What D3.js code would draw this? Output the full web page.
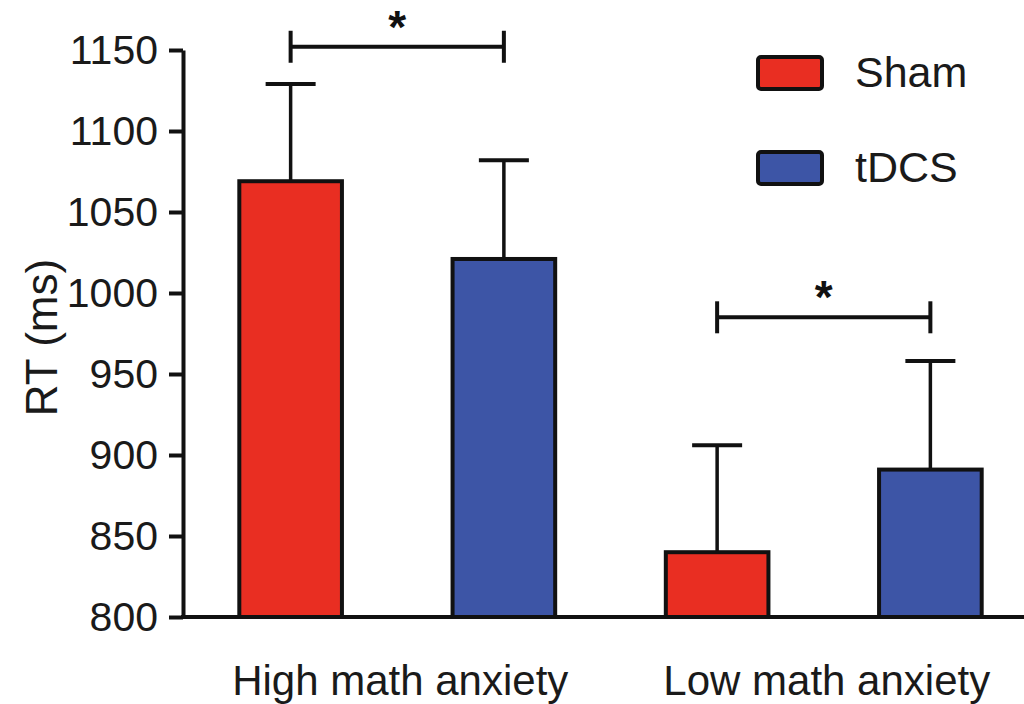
<!DOCTYPE html>
<html>
<head>
<meta charset="utf-8">
<script src="https://cdn.jsdelivr.net/npm/d3@7"></script>
<style>
  html, body { margin: 0; padding: 0; background: #fff; }
  svg { display: block; font-family: "Liberation Sans", Arial, Helvetica, sans-serif; }
</style>
</head>
<body>
<svg id="chart" width="1024" height="704"></svg>
<script>
// Reaction time by math-anxiety group and stimulation condition
const groups = ["High math anxiety", "Low math anxiety"];
const series = ["Sham", "tDCS"];
const shamMeans = [1069, 840];
const tdcsMeans = [1021, 891];
const shamSEM = [60, 66];
const tdcsSEM = [61, 67];
const yTicks = [800, 850, 900, 950, 1000, 1050, 1100, 1150];
const colors = ["#E92E22", "#3D55A6"];
// Significance brackets: group index, height in RT units, label
const sigGroups = [0, 1];
const sigLevels = [1152, 985];
const sigLabels = ["*", "*"];

const svg = d3.select("#chart");
const axisX = 183, axisY0 = 617, axisTop = 50;

const y = d3.scaleLinear().domain([800, 1150]).range([axisY0, axisTop]);
const x0 = d3.scaleBand().domain(groups).range([184, 1037]).padding(0);
const x1 = d3.scaleBand().domain(series)
  .range([0, x0.bandwidth()]).paddingInner(0.5).paddingOuter(0.25);
const color = d3.scaleOrdinal().domain(series).range(colors);

const data = groups.map((g, i) => ({
  group: g,
  values: [
    { key: "Sham", mean: shamMeans[i], sem: shamSEM[i] },
    { key: "tDCS", mean: tdcsMeans[i], sem: tdcsSEM[i] }
  ]
}));

// Y axis
const yAxis = svg.append("g")
  .attr("transform", `translate(${axisX},0)`)
  .call(d3.axisLeft(y).tickValues(yTicks).tickSize(14).tickSizeOuter(0).tickPadding(11)
    .tickFormat(d3.format("d")));
yAxis.select(".domain").attr("stroke", "#111").attr("stroke-width", 4);
yAxis.selectAll(".tick line").attr("stroke", "#111").attr("stroke-width", 4);
yAxis.selectAll(".tick text").attr("fill", "#1a1a1a").style("font-size", "41px")
  .attr("font-family", "Liberation Sans, Arial, sans-serif");

// Y axis title
svg.append("text")
  .attr("transform", `translate(57,${(axisTop + axisY0) / 2 + 4}) rotate(-90)`)
  .attr("text-anchor", "middle")
  .attr("fill", "#1a1a1a")
  .style("font-size", "44px")
  .text("RT (ms)");

// Bars with error bars
const gGroups = svg.selectAll("g.group").data(data).join("g")
  .attr("class", "group")
  .attr("transform", d => `translate(${x0(d.group)},0)`);

const capW = 50;
gGroups.selectAll("line.err").data(d => d.values).join("line")
  .attr("class", "err")
  .attr("x1", d => x1(d.key) + x1.bandwidth() / 2)
  .attr("x2", d => x1(d.key) + x1.bandwidth() / 2)
  .attr("y1", d => y(d.mean))
  .attr("y2", d => y(d.mean + d.sem))
  .attr("stroke", "#111").attr("stroke-width", 3.5);

gGroups.selectAll("line.cap").data(d => d.values).join("line")
  .attr("class", "cap")
  .attr("x1", d => x1(d.key) + x1.bandwidth() / 2 - capW / 2)
  .attr("x2", d => x1(d.key) + x1.bandwidth() / 2 + capW / 2)
  .attr("y1", d => y(d.mean + d.sem))
  .attr("y2", d => y(d.mean + d.sem))
  .attr("stroke", "#111").attr("stroke-width", 4);

gGroups.selectAll("rect").data(d => d.values).join("rect")
  .attr("x", d => x1(d.key) + 2)
  .attr("width", x1.bandwidth() - 4)
  .attr("y", d => y(d.mean))
  .attr("height", d => y(800) - y(d.mean))
  .attr("fill", d => color(d.key))
  .attr("stroke", "#111").attr("stroke-width", 4);

// X axis line and category labels
svg.append("line")
  .attr("x1", axisX - 2).attr("x2", 1024)
  .attr("y1", axisY0).attr("y2", axisY0)
  .attr("stroke", "#111").attr("stroke-width", 4);

svg.selectAll("text.xlab").data(groups).join("text")
  .attr("class", "xlab")
  .attr("x", d => x0(d) + x0.bandwidth() / 2 + 3)
  .attr("y", 695)
  .attr("text-anchor", "middle")
  .attr("fill", "#1a1a1a")
  .style("font-size", "42px")
  .text(d => d);

// Significance brackets
sigGroups.forEach((gi, i) => {
  const g = groups[gi];
  const xa = x0(g) + x1("Sham") + x1.bandwidth() / 2;
  const xb = x0(g) + x1("tDCS") + x1.bandwidth() / 2;
  const yy = y(sigLevels[i]);
  const b = svg.append("g").attr("stroke", "#111").attr("stroke-width", 4);
  b.append("line").attr("x1", xa).attr("x2", xb).attr("y1", yy).attr("y2", yy);
  b.append("line").attr("x1", xa).attr("x2", xa).attr("y1", yy - 16).attr("y2", yy + 16);
  b.append("line").attr("x1", xb).attr("x2", xb).attr("y1", yy - 16).attr("y2", yy + 16);
  svg.append("text")
    .attr("x", (xa + xb) / 2)
    .attr("y", yy - 4)
    .attr("text-anchor", "middle")
    .attr("fill", "#111")
    .style("font-size", "46px")
    .style("font-weight", "bold")
    .text(sigLabels[i]);
});

// Legend
const legend = svg.append("g");
series.forEach((s, i) => {
  const ly = 57 + i * 95;
  legend.append("rect")
    .attr("x", 758).attr("y", ly)
    .attr("width", 64).attr("height", 32)
    .attr("rx", 3)
    .attr("fill", color(s))
    .attr("stroke", "#111").attr("stroke-width", 4);
  legend.append("text")
    .attr("x", 855).attr("y", ly + 30)
    .attr("fill", "#1a1a1a")
    .style("font-size", "43px")
    .text(s);
});
</script>
</body>
</html>
